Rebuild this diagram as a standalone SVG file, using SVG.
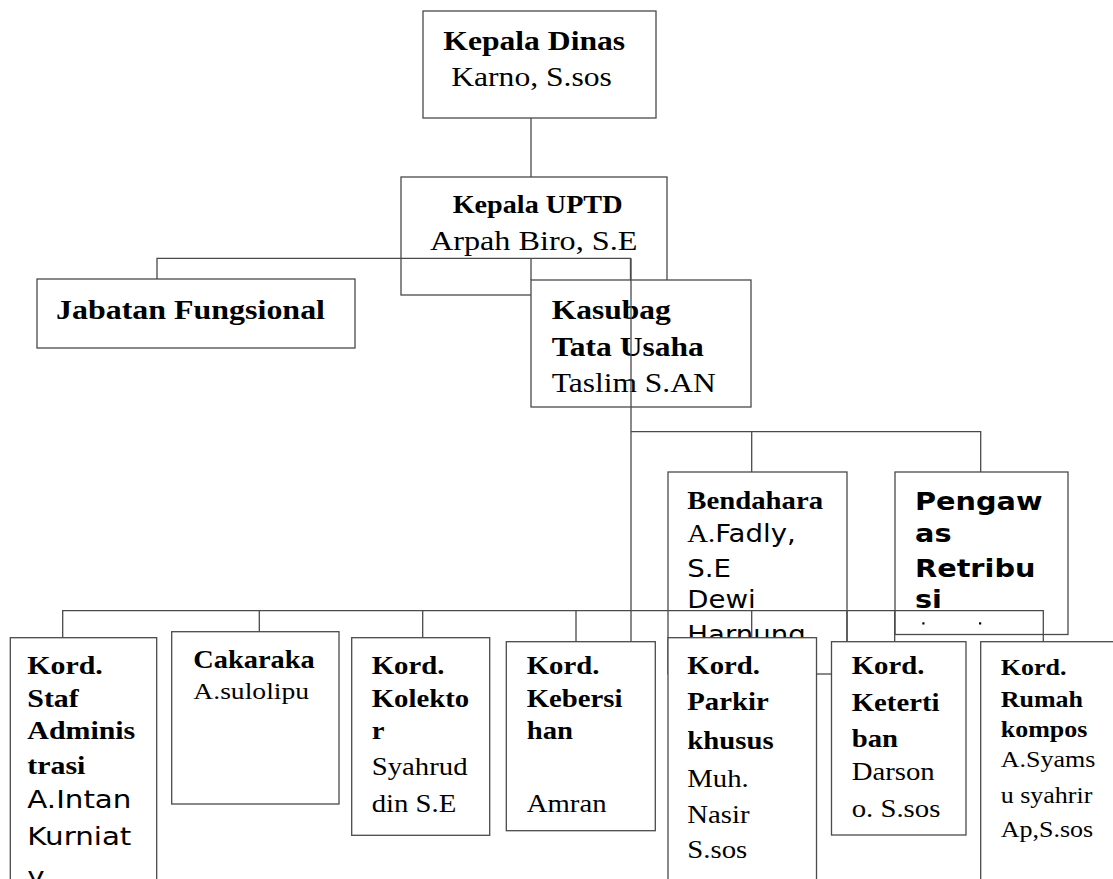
<svg xmlns="http://www.w3.org/2000/svg" width="1113" height="879" viewBox="0 0 1113 879">
<style>
.box{fill:#fff;stroke:#4a4a4a;stroke-width:1.3}
.ln{fill:none;stroke:#4a4a4a;stroke-width:1.3}
.b{font-family:"Liberation Serif","Times New Roman",serif;font-weight:bold;fill:#000}
.r{font-family:"Liberation Serif","Times New Roman",serif;fill:#000}
.d{font-family:"DejaVu Sans",sans-serif;fill:#000}
.db{font-family:"DejaVu Sans",sans-serif;font-weight:bold;fill:#000}
</style>
<defs>
<clipPath id="clipPeng"><rect x="895" y="472" width="172" height="139"/></clipPath>
</defs>
<rect width="1113" height="879" fill="#fff"/>

<g id="kepala-dinas">
<rect class="box" x="423" y="11" width="233" height="107"/>
<text transform="matrix(1.15 0 0 1 443.3 0)"><tspan class="b" x="0" y="50" font-size="27.5">Kepala Dinas</tspan><tspan class="r" x="0" y="86" font-size="27.5"> Karno, S.sos</tspan></text>
</g>

<g id="kepala-uptd">
<rect class="box" x="401" y="177" width="266" height="118"/>
<text transform="matrix(1.15 0 0 1 452.7 0)" class="b" font-size="24.5" y="213.3">Kepala UPTD</text>
<text transform="matrix(1.15 0 0 1 430 0)" class="r" font-size="28" y="250">Arpah Biro, S.E</text>
</g>

<g id="jabatan-fungsional">
<rect class="box" x="37" y="279" width="318" height="69"/>
<text transform="matrix(1.15 0 0 1 56 0)" class="b" font-size="27.8" y="319.3">Jabatan Fungsional</text>
</g>

<g id="kasubag">
<rect class="box" x="531" y="280" width="220" height="127"/>
<text transform="matrix(1.15 0 0 1 551.7 0)" font-size="27.4"><tspan class="b" x="0" y="319.3">Kasubag</tspan><tspan class="b" x="0" y="356">Tata Usaha</tspan><tspan class="r" x="0" y="391.7">Taslim S.AN</tspan></text>
</g>

<g id="bendahara">
<rect class="box" x="668" y="472" width="179" height="202"/>
<text transform="matrix(1.15 0 0 1 687.3 0)"><tspan class="b" x="0" y="509.3" font-size="25">Bendahara</tspan><tspan class="r" x="0" y="541.7" font-size="25">A.</tspan><tspan class="d" font-size="24">Fadly,</tspan><tspan class="d" x="0" y="576.7" font-size="24">S.E</tspan><tspan class="d" x="0" y="608.3" font-size="24">Dewi</tspan><tspan class="d" x="0" y="643" font-size="24">Harnung,</tspan></text>
</g>

<g id="pengawas">
<rect class="box" x="895" y="472" width="173" height="162.5"/>
<g clip-path="url(#clipPeng)">
<text transform="matrix(1.15 0 0 1 915 0)" class="db" font-size="25"><tspan x="0" y="510">Pengaw</tspan><tspan x="0" y="541.7">as</tspan><tspan x="0" y="577.3">Retribu</tspan><tspan x="0" y="608.5">si</tspan></text>
</g>
<rect x="922.3" y="622.3" width="2.2" height="2.2" fill="#000"/>
<rect x="979" y="622.3" width="2.2" height="2.2" fill="#000"/>
</g>

<g id="kord-staf">
<rect class="box" x="10.3" y="637.7" width="146.4" height="250"/>
<text transform="matrix(1.15 0 0 1 27.3 0)"><tspan class="b" font-size="26" x="0" y="674">Kord.</tspan><tspan class="b" font-size="26" x="0" y="707.3">Staf</tspan><tspan class="b" font-size="26" x="0" y="739.3">Adminis</tspan><tspan class="b" font-size="26" x="0" y="774">trasi</tspan><tspan class="d" font-size="25.5" x="0" y="808.3">A.Intan</tspan><tspan class="d" font-size="25.5" x="0" y="845">Kurniat</tspan><tspan class="d" font-size="25.5" x="0" y="885">y</tspan></text>
</g>

<g id="cakaraka">
<rect class="box" x="171.7" y="631.7" width="167.3" height="172.3"/>
<text transform="matrix(1.15 0 0 1 193.3 0)"><tspan class="b" font-size="24.7" x="0" y="668.3">Cakaraka</tspan><tspan class="r" font-size="24" x="0" y="699.3">A.sulolipu</tspan></text>
</g>

<g id="kord-kolektor">
<rect class="box" x="351.7" y="637.7" width="138" height="197.6"/>
<text transform="matrix(1.15 0 0 1 371.7 0)" font-size="25"><tspan class="b" x="0" y="674">Kord.</tspan><tspan class="b" x="0" y="707.3">Kolekto</tspan><tspan class="b" x="0" y="739.3">r</tspan><tspan class="r" x="0" y="775">Syahrud</tspan><tspan class="r" x="0" y="811.7">din S.E</tspan></text>
</g>

<g id="kord-kebersihan">
<rect class="box" x="506.3" y="641.7" width="149" height="189"/>
<text transform="matrix(1.15 0 0 1 526.7 0)" font-size="25"><tspan class="b" x="0" y="674">Kord.</tspan><tspan class="b" x="0" y="707.3">Kebersi</tspan><tspan class="b" x="0" y="739.3">han</tspan><tspan class="r" x="0" y="811.7">Amran</tspan></text>
</g>

<g id="kord-parkir">
<rect class="box" x="668" y="637.7" width="148.5" height="250"/>
<text transform="matrix(1.15 0 0 1 687.3 0)" font-size="25"><tspan class="b" x="0" y="674">Kord.</tspan><tspan class="b" x="0" y="710">Parkir</tspan><tspan class="b" x="0" y="749.3">khusus</tspan><tspan class="r" x="0" y="786.7">Muh.</tspan><tspan class="r" x="0" y="822.7">Nasir</tspan><tspan class="r" x="0" y="858.3">S.sos</tspan></text>
</g>

<g id="kord-ketertiban">
<rect class="box" x="831.5" y="641.7" width="134.5" height="193.3"/>
<text transform="matrix(1.15 0 0 1 851.7 0)" font-size="25"><tspan class="b" x="0" y="674">Kord.</tspan><tspan class="b" x="0" y="710.7">Keterti</tspan><tspan class="b" x="0" y="746.7">ban</tspan><tspan class="r" x="0" y="780">Darson</tspan><tspan class="r" x="0" y="816.7">o. S.sos</tspan></text>
</g>

<g id="kord-rumah-kompos">
<rect class="box" x="980.7" y="641.7" width="160" height="250"/>
<text transform="matrix(1.15 0 0 1 1000.7 0)" font-size="22.6"><tspan class="b" x="0" y="675">Kord.</tspan><tspan class="b" x="0" y="706.7">Rumah</tspan><tspan class="b" x="0" y="737.3">kompos</tspan><tspan class="r" x="0" y="766.7">A.Syams</tspan><tspan class="r" x="0" y="802.7">u syahrir</tspan><tspan class="r" x="0" y="837.3">Ap,S.sos</tspan></text>
</g>

<g id="connectors">
<path class="ln" d="M531 118V177"/>
<path class="ln" d="M157 279V258.3H630.5V280M531 258.3V280"/>
<path class="ln" d="M631 258.3V641.7"/>
<path class="ln" d="M631 431.7H980.7V472M751.7 431.7V472"/>
<path class="ln" d="M62.7 637.7V610.7H1043.3V641.7"/>
<path class="ln" d="M259.3 610.7V631.7M422.7 610.7V637.7M576 610.7V641.7M751.7 610.7V637.7M847 610.7V641.7M894.7 610.7V641.7"/>
</g>
</svg>
